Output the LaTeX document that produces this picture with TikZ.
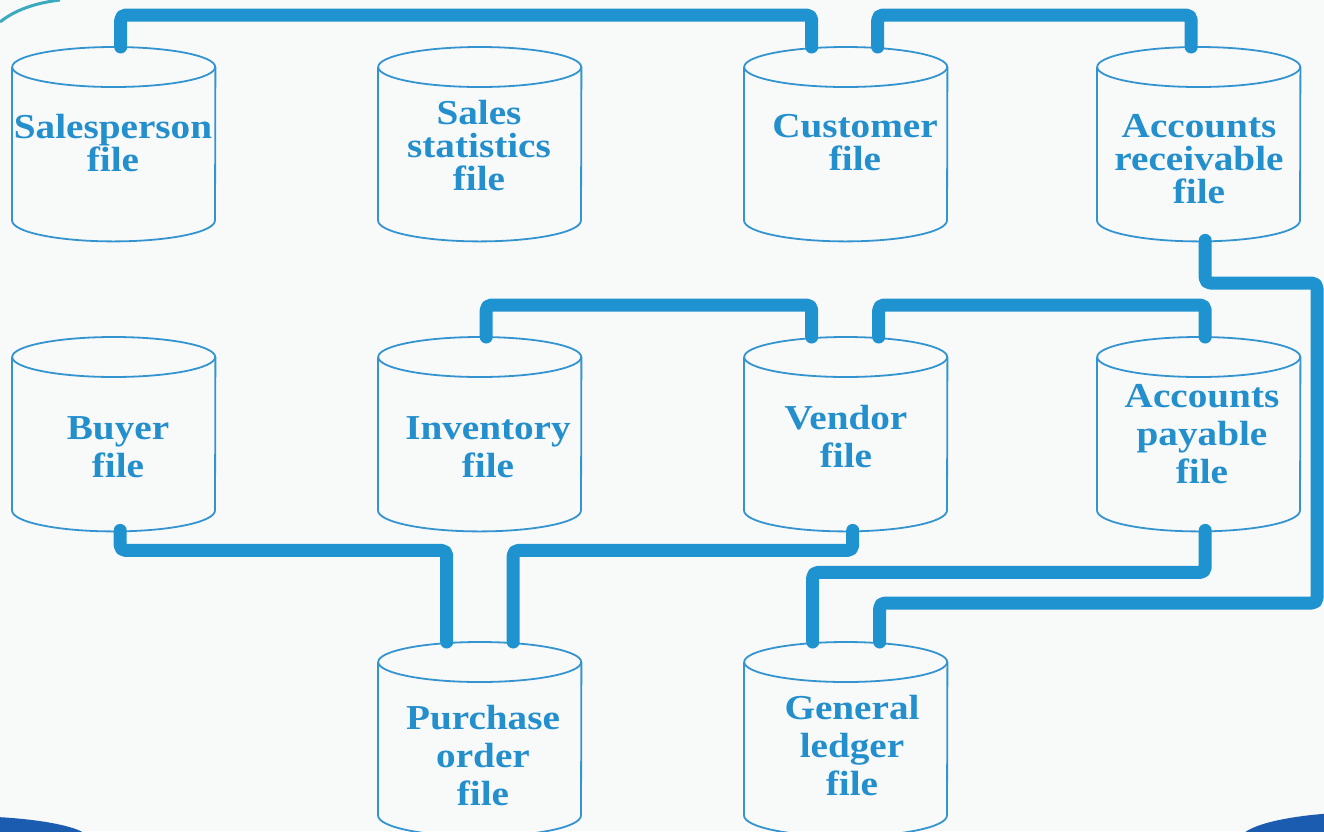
\documentclass[tikz,border=0pt]{standalone}
\usepackage{fontspec}
\usetikzlibrary{calc}
\newfontfamily\lblfont[FakeStretch=1.12]{Liberation Serif}
\definecolor{connblue}{RGB}{31,147,208}
\definecolor{cylblue}{RGB}{52,148,208}
\definecolor{txtblue}{RGB}{36,143,205}
\definecolor{bgcol}{RGB}{248,249,249}
\definecolor{darkswoosh}{RGB}{28,92,176}
\definecolor{tealarc}{RGB}{60,170,190}
\tikzset{
  cylbox/.style={draw=none, minimum width=203pt, minimum height=193pt, inner sep=0pt, anchor=north west},
  cylline/.style={draw=cylblue, line width=1.8pt},
  lbl/.style={text=txtblue, align=center, inner sep=0pt, font={\lblfont\bfseries\fontsize{35}{38}\selectfont}},
  lbltight/.style={lbl, font={\lblfont\bfseries\fontsize{35}{33}\selectfont}},
  conn/.style={draw=connblue, line width=13pt, rounded corners=5pt, line cap=round, line join=round}
}
\newcommand\drawcyl[1]{%
  \draw[cylline] ($(#1.north west)+(0,20)$) -- ($(#1.south west)+(0,-20)$)
     arc[start angle=180, end angle=360, x radius=101.5pt, y radius=21pt]
     -- ($(#1.north east)+(0,20)$);
  \draw[cylline] ($(#1.north)+(0,20)$) ellipse[x radius=101.5pt, y radius=20pt];
}
\begin{document}
\begin{tikzpicture}[x=1pt, y=-1pt]
\useasboundingbox (0,0) rectangle (1324,831);
\fill[bgcol] (0,0) rectangle (1324,831);
% decorative fragments
\draw[tealarc, line width=3pt] (0,22) .. controls (15,10) and (35,3) .. (60,0);
\fill[darkswoosh] (-40,840) ellipse[x radius=130pt, y radius=24pt];
\fill[darkswoosh] (1370,840) ellipse[x radius=130pt, y radius=28pt];

% cylinders
\node[cylbox] (sp) at (12,47) {};
\node[cylbox] (ss) at (378,47) {};
\node[cylbox] (cu) at (744,47) {};
\node[cylbox] (ar) at (1097,47) {};
\node[cylbox] (bu) at (12,337) {};
\node[cylbox] (in) at (378,337) {};
\node[cylbox] (ve) at (744,337) {};
\node[cylbox] (ap) at (1097,337) {};
\node[cylbox] (po) at (378,642) {};
\node[cylbox] (gl) at (744,642) {};
\foreach \n in {sp,ss,cu,ar,bu,in,ve,ap,po,gl}{\drawcyl{\n}}

% labels
\node[lbltight] (tsp) at (113,143) {Salesperson\\file};
\node[lbltight] (tss) at (479,146) {Sales\\statistics\\file};
\node[lbltight] (tcu) at (855,143) {Customer\\file};
\node[lbltight] (tar) at (1199,159) {Accounts\\receivable\\file};
\node[lbl] (tbu) at (118,447) {Buyer\\file};
\node[lbl] (tin) at (488,447) {Inventory\\file};
\node[lbl] (tve) at (846,437) {Vendor\\file};
\node[lbl] (tap) at (1202,434) {Accounts\\payable\\file};
\node[lbl] (tpo) at (483,756) {Purchase\\order\\file};
\node[lbl] (tgl) at (852,746) {General\\ledger\\file};

% waypoints
\coordinate (rA) at (1317,283);
\coordinate (rB) at (1317,603);

% connectors
\draw[conn] ($(sp.north)+(7,0)$) -- ++(0,-32) -| ($(cu.north)+(-34,0)$);
\draw[conn] ($(cu.north)+(32,0)$) -- ++(0,-32) -| ($(ar.north)+(-7.5,0)$);
\draw[conn] ($(ar.south)+(6.5,0)$) |- (rA) -- (rB) -| ($(gl.north)+(34,0)$);
\draw[conn] ($(in.north)+(6.5,0)$) -- ++(0,-32) -| ($(ve.north)+(-34,0)$);
\draw[conn] ($(ve.north)+(33,0)$) -- ++(0,-32) -| ($(ap.north)+(6.5,0)$);
\draw[conn] ($(bu.south)+(6.5,0)$) -- ++(0,20) -| ($(po.north)+(-33,0)$);
\draw[conn] ($(ve.south)+(7,0)$) -- ++(0,20) -| ($(po.north)+(33.5,0)$);
\draw[conn] ($(ap.south)+(6.5,0)$) -- ++(0,42) -| ($(gl.north)+(-33,0)$);
\end{tikzpicture}
\end{document}
